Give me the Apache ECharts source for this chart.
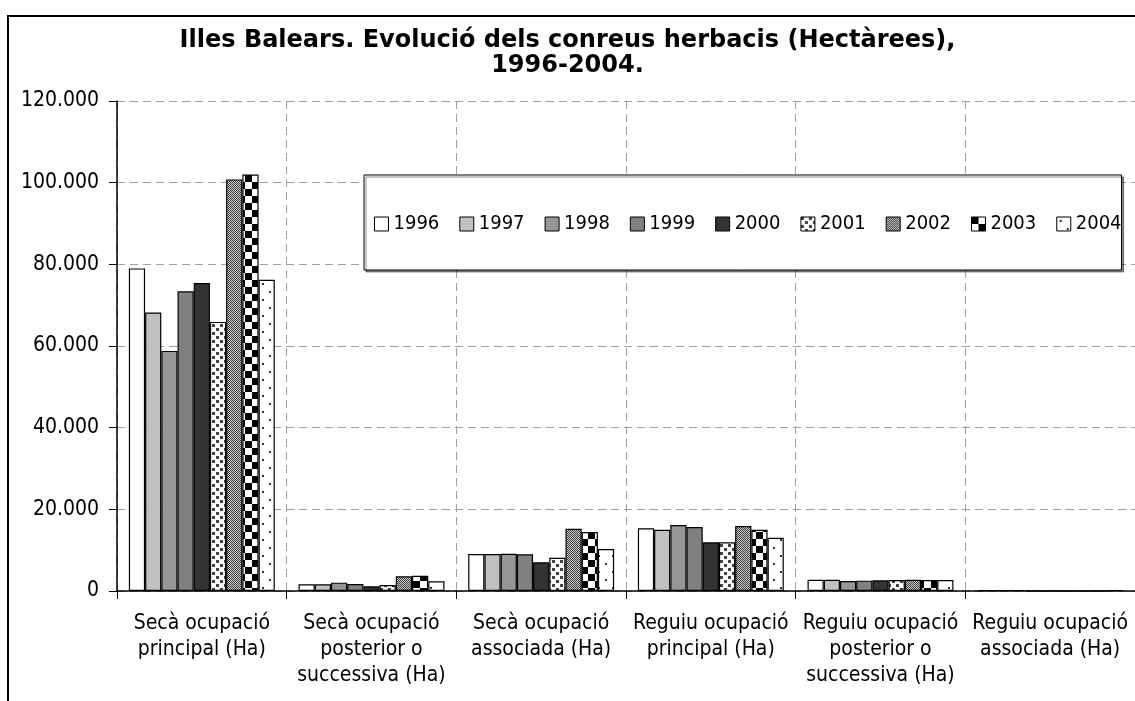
<!DOCTYPE html>
<html>
<head>
<meta charset="utf-8">
<script src="https://cdn.jsdelivr.net/npm/echarts@6/dist/echarts.min.js"></script>
<style>
  html, body { margin: 0; padding: 0; background: #fff; }
  #main { width: 1135px; height: 701px; }
</style>
</head>
<body>
<div id="main"></div>
<script>
var categories = [
  'Secà ocupació\nprincipal (Ha)',
  'Secà ocupació\nposterior o\nsuccessiva (Ha)',
  'Secà ocupació\nassociada (Ha)',
  'Reguiu ocupació\nprincipal (Ha)',
  'Reguiu ocupació\nposterior o\nsuccessiva (Ha)',
  'Reguiu ocupació\nassociada (Ha)'
];
var years = ['1996', '1997', '1998', '1999', '2000', '2001', '2002', '2003', '2004'];

// hectàrees per any (llegit del gràfic)
var ha1996 = [79000, 1640, 9060, 15350, 2770, 250];
var ha1997 = [68200, 1640, 9060, 15000, 2770, 250];
var ha1998 = [58800, 2050, 9140, 16160, 2450, 250];
var ha1999 = [73400, 1710, 8980, 15670, 2530, 50];
var ha2000 = [75400, 1150, 7020, 11920, 2610, 50];
var ha2001 = [65900, 1470, 8160, 11920, 2690, 30];
var ha2002 = [100800, 3600, 15250, 15910, 2770, 30];
var ha2003 = [102000, 3750, 14440, 15000, 2690, 30];
var ha2004 = [76200, 2370, 10280, 13050, 2690, 250];
var yearValues = [ha1996, ha1997, ha1998, ha1999, ha2000, ha2001, ha2002, ha2003, ha2004];

var yTicks = [0, 20000, 40000, 60000, 80000, 100000, 120000];

var FONT = '"DejaVu Sans Condensed", "DejaVu Sans", sans-serif';

function tile(w, h, draw) {
  var c = document.createElement('canvas');
  c.width = w;
  c.height = h;
  var ctx = c.getContext('2d');
  draw(ctx);
  return { image: c, repeat: 'repeat' };
}

// tramats tipus Excel
var pat2001 = tile(8, 8, function (ctx) {
  ctx.fillStyle = '#fff'; ctx.fillRect(0, 0, 8, 8);
  ctx.fillStyle = '#444';
  ctx.fillRect(0, 0, 3, 3);
  ctx.fillRect(4, 4, 3, 3);
});
var pat2002 = tile(2, 2, function (ctx) {
  ctx.fillStyle = '#cfcfcf'; ctx.fillRect(0, 0, 2, 2);
  ctx.fillStyle = '#3a3a3a';
  ctx.fillRect(0, 0, 1, 1);
  ctx.fillRect(1, 1, 1, 1);
});
var pat2003 = tile(14, 14, function (ctx) {
  ctx.fillStyle = '#fff'; ctx.fillRect(0, 0, 14, 14);
  ctx.fillStyle = '#000';
  ctx.fillRect(0, 0, 7, 7);
  ctx.fillRect(7, 7, 7, 7);
});
var pat2004 = tile(14, 16, function (ctx) {
  ctx.fillStyle = '#fff'; ctx.fillRect(0, 0, 14, 16);
  ctx.fillStyle = '#333';
  ctx.fillRect(3, 3, 2, 2);
  ctx.fillRect(10, 11, 2, 2);
});

var fills = ['#ffffff', '#c0c0c0', '#969696', '#808080', '#333333', pat2001, pat2002, pat2003, pat2004];

function fmt(v) {
  return String(v).replace(/\B(?=(\d{3})+(?!\d))/g, '.');
}

var series = [];
for (var i = 0; i < years.length; i++) {
  series.push({
    name: years[i],
    type: 'bar',
    data: yearValues[i],
    barGap: '0%',
    barCategoryGap: '14%',
    itemStyle: {
      color: fills[i],
      borderColor: '#000',
      borderWidth: 1.2
    },
    emphasis: { disabled: true }
  });
}

var chart = echarts.init(document.getElementById('main'), null, { renderer: 'canvas' });
chart.setOption({
  animation: false,
  backgroundColor: '#fff',
  title: {
    text: 'Illes Balears. Evolució dels conreus herbacis (Hectàrees),\n1996-2004.',
    left: 'center',
    top: 23,
    textStyle: {
      fontFamily: '"DejaVu Sans", sans-serif',
      fontWeight: 'bold',
      fontSize: 24,
      lineHeight: 25,
      color: '#000'
    }
  },
  legend: {
    data: years,
    icon: 'rect',
    left: 364,
    top: 175,
    padding: [39, 0, 36, 10],
    itemWidth: 14,
    itemHeight: 14,
    itemGap: 20,
    backgroundColor: '#fff',
    borderColor: '#000',
    borderWidth: 1,
    shadowColor: 'rgba(0,0,0,0.45)',
    shadowOffsetX: 2,
    shadowOffsetY: 2,
    shadowBlur: 0,
    selectedMode: false,
    textStyle: { fontFamily: FONT, fontSize: 20, color: '#000' },
    itemStyle: { borderColor: '#000', borderWidth: 1 }
  },
  grid: {
    left: 117,
    right: -1,
    top: 101,
    bottom: 110
  },
  xAxis: {
    type: 'category',
    data: categories,
    axisLine: { lineStyle: { color: '#000', width: 1.5 } },
    axisTick: { show: true, length: 8, lineStyle: { color: '#000' } },
    axisLabel: {
      interval: 0,
      margin: 20,
      fontFamily: FONT,
      fontSize: 21,
      lineHeight: 26,
      color: '#000'
    },
    splitLine: {
      show: true,
      lineStyle: { color: '#a0a0a0', type: [8, 5], width: 1 }
    }
  },
  yAxis: {
    type: 'value',
    min: yTicks[0],
    max: yTicks[yTicks.length - 1],
    interval: 20000,
    axisLine: { show: true, lineStyle: { color: '#000', width: 1.5 } },
    axisTick: { show: true, length: 8, lineStyle: { color: '#000' } },
    axisLabel: {
      margin: 18,
      fontFamily: FONT,
      fontSize: 21,
      color: '#000',
      formatter: fmt
    },
    splitLine: {
      show: true,
      lineStyle: { color: '#a0a0a0', type: [8, 5], width: 1 }
    }
  },
  graphic: [{
    type: 'rect',
    shape: { x: 8, y: 16, width: 1300, height: 900 },
    style: { fill: null, stroke: '#000', lineWidth: 2 },
    silent: true,
    z: 10
  }],
  series: series
});
</script>
</body>
</html>
